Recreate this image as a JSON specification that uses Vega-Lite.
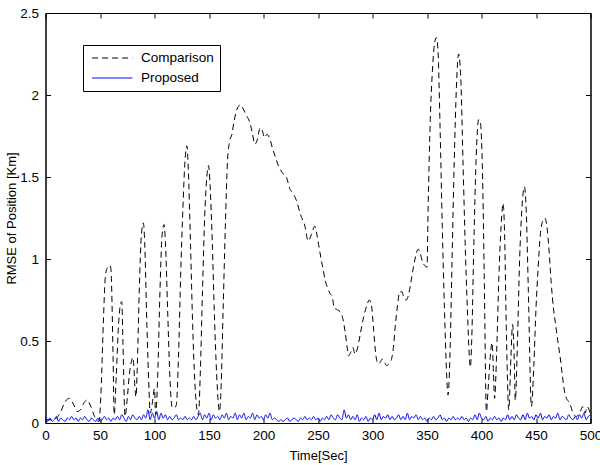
{
"$schema": "https://vega.github.io/schema/vega-lite/v6.json",
"width": 545, "height": 410,
"autosize": "none",
"padding": {"left": 45.5, "top": 13, "right": 9.5, "bottom": 42},
"background": "white",
"config": {
  "view": {"stroke": "black", "strokeWidth": 1},
  "font": "Liberation Sans",
  "axis": {"grid": false, "domainColor": "black", "tickColor": "black", "labelColor": "black", "titleColor": "black", "labelFontSize": 13.5, "titleFontSize": 13, "titleFontWeight": "normal", "tickSize": -5, "labelFlush": false, "labelFont": "Liberation Sans", "titleFont": "Liberation Sans"}
},
"datasets": {
"d": [
{"t":0,"v":0.02,"s":"Comparison"},{"t":5,"v":0.02,"s":"Comparison"},{"t":10,"v":0.03,"s":"Comparison"},{"t":14,"v":0.07,"s":"Comparison"},{"t":18,"v":0.13,"s":"Comparison"},{"t":22,"v":0.15,"s":"Comparison"},{"t":26,"v":0.11,"s":"Comparison"},{"t":29,"v":0.07,"s":"Comparison"},{"t":32,"v":0.08,"s":"Comparison"},{"t":35,"v":0.12,"s":"Comparison"},{"t":38,"v":0.14,"s":"Comparison"},{"t":41,"v":0.11,"s":"Comparison"},{"t":45,"v":0.04,"s":"Comparison"},{"t":49,"v":0.01,"s":"Comparison"},{"t":51,"v":0.2,"s":"Comparison"},{"t":53,"v":0.6,"s":"Comparison"},{"t":55,"v":0.9,"s":"Comparison"},{"t":57,"v":0.95,"s":"Comparison"},{"t":59,"v":0.96,"s":"Comparison"},{"t":60,"v":0.94,"s":"Comparison"},{"t":62,"v":0.4,"s":"Comparison"},{"t":63,"v":0.05,"s":"Comparison"},{"t":65,"v":0.3,"s":"Comparison"},{"t":67,"v":0.6,"s":"Comparison"},{"t":69,"v":0.73,"s":"Comparison"},{"t":70,"v":0.74,"s":"Comparison"},{"t":71,"v":0.5,"s":"Comparison"},{"t":73,"v":0.04,"s":"Comparison"},{"t":75,"v":0.15,"s":"Comparison"},{"t":77,"v":0.3,"s":"Comparison"},{"t":79,"v":0.38,"s":"Comparison"},{"t":80,"v":0.4,"s":"Comparison"},{"t":81,"v":0.35,"s":"Comparison"},{"t":82,"v":0.22,"s":"Comparison"},{"t":83,"v":0.16,"s":"Comparison"},{"t":84,"v":0.3,"s":"Comparison"},{"t":86,"v":0.8,"s":"Comparison"},{"t":88,"v":1.15,"s":"Comparison"},{"t":89.8,"v":1.22,"s":"Comparison"},{"t":91,"v":1.1,"s":"Comparison"},{"t":93,"v":0.6,"s":"Comparison"},{"t":95,"v":0.2,"s":"Comparison"},{"t":96,"v":0.06,"s":"Comparison"},{"t":98,"v":0.12,"s":"Comparison"},{"t":100,"v":0.21,"s":"Comparison"},{"t":101,"v":0.05,"s":"Comparison"},{"t":103,"v":0.3,"s":"Comparison"},{"t":105,"v":0.8,"s":"Comparison"},{"t":107,"v":1.15,"s":"Comparison"},{"t":108.8,"v":1.21,"s":"Comparison"},{"t":110,"v":1.1,"s":"Comparison"},{"t":112,"v":0.7,"s":"Comparison"},{"t":114,"v":0.3,"s":"Comparison"},{"t":116,"v":0.1,"s":"Comparison"},{"t":118,"v":0.09,"s":"Comparison"},{"t":120,"v":0.11,"s":"Comparison"},{"t":122,"v":0.4,"s":"Comparison"},{"t":124,"v":0.9,"s":"Comparison"},{"t":126,"v":1.3,"s":"Comparison"},{"t":128,"v":1.6,"s":"Comparison"},{"t":129.7,"v":1.69,"s":"Comparison"},{"t":131,"v":1.55,"s":"Comparison"},{"t":133,"v":1.1,"s":"Comparison"},{"t":135,"v":0.6,"s":"Comparison"},{"t":137,"v":0.25,"s":"Comparison"},{"t":139,"v":0.08,"s":"Comparison"},{"t":140.3,"v":0.05,"s":"Comparison"},{"t":142,"v":0.3,"s":"Comparison"},{"t":144,"v":0.8,"s":"Comparison"},{"t":146,"v":1.25,"s":"Comparison"},{"t":148,"v":1.5,"s":"Comparison"},{"t":149.5,"v":1.57,"s":"Comparison"},{"t":151,"v":1.45,"s":"Comparison"},{"t":153,"v":1.1,"s":"Comparison"},{"t":155,"v":0.65,"s":"Comparison"},{"t":157,"v":0.3,"s":"Comparison"},{"t":159.6,"v":0.07,"s":"Comparison"},{"t":161,"v":0.2,"s":"Comparison"},{"t":163,"v":0.7,"s":"Comparison"},{"t":165,"v":1.2,"s":"Comparison"},{"t":167,"v":1.6,"s":"Comparison"},{"t":169,"v":1.72,"s":"Comparison"},{"t":171,"v":1.76,"s":"Comparison"},{"t":173,"v":1.84,"s":"Comparison"},{"t":175,"v":1.9,"s":"Comparison"},{"t":177,"v":1.93,"s":"Comparison"},{"t":179,"v":1.94,"s":"Comparison"},{"t":181,"v":1.92,"s":"Comparison"},{"t":184,"v":1.88,"s":"Comparison"},{"t":188,"v":1.82,"s":"Comparison"},{"t":190,"v":1.76,"s":"Comparison"},{"t":192,"v":1.7,"s":"Comparison"},{"t":194,"v":1.72,"s":"Comparison"},{"t":197,"v":1.8,"s":"Comparison"},{"t":199,"v":1.78,"s":"Comparison"},{"t":201,"v":1.74,"s":"Comparison"},{"t":203,"v":1.76,"s":"Comparison"},{"t":206,"v":1.73,"s":"Comparison"},{"t":208,"v":1.68,"s":"Comparison"},{"t":211,"v":1.62,"s":"Comparison"},{"t":213,"v":1.58,"s":"Comparison"},{"t":215,"v":1.55,"s":"Comparison"},{"t":218,"v":1.52,"s":"Comparison"},{"t":221,"v":1.5,"s":"Comparison"},{"t":224,"v":1.43,"s":"Comparison"},{"t":227,"v":1.4,"s":"Comparison"},{"t":230,"v":1.36,"s":"Comparison"},{"t":234,"v":1.27,"s":"Comparison"},{"t":238,"v":1.2,"s":"Comparison"},{"t":241,"v":1.11,"s":"Comparison"},{"t":244,"v":1.15,"s":"Comparison"},{"t":247,"v":1.2,"s":"Comparison"},{"t":249,"v":1.15,"s":"Comparison"},{"t":251,"v":1.07,"s":"Comparison"},{"t":254,"v":0.96,"s":"Comparison"},{"t":257,"v":0.86,"s":"Comparison"},{"t":259,"v":0.82,"s":"Comparison"},{"t":261,"v":0.79,"s":"Comparison"},{"t":263,"v":0.77,"s":"Comparison"},{"t":265,"v":0.7,"s":"Comparison"},{"t":268,"v":0.69,"s":"Comparison"},{"t":271,"v":0.67,"s":"Comparison"},{"t":273,"v":0.63,"s":"Comparison"},{"t":275,"v":0.55,"s":"Comparison"},{"t":277,"v":0.45,"s":"Comparison"},{"t":278,"v":0.41,"s":"Comparison"},{"t":280,"v":0.43,"s":"Comparison"},{"t":282,"v":0.46,"s":"Comparison"},{"t":284,"v":0.42,"s":"Comparison"},{"t":286,"v":0.45,"s":"Comparison"},{"t":289,"v":0.55,"s":"Comparison"},{"t":292,"v":0.65,"s":"Comparison"},{"t":295,"v":0.72,"s":"Comparison"},{"t":297,"v":0.75,"s":"Comparison"},{"t":299,"v":0.72,"s":"Comparison"},{"t":301,"v":0.57,"s":"Comparison"},{"t":303,"v":0.42,"s":"Comparison"},{"t":305,"v":0.36,"s":"Comparison"},{"t":307,"v":0.37,"s":"Comparison"},{"t":309,"v":0.39,"s":"Comparison"},{"t":311,"v":0.37,"s":"Comparison"},{"t":313,"v":0.35,"s":"Comparison"},{"t":315,"v":0.36,"s":"Comparison"},{"t":317,"v":0.38,"s":"Comparison"},{"t":319,"v":0.45,"s":"Comparison"},{"t":321,"v":0.6,"s":"Comparison"},{"t":323,"v":0.72,"s":"Comparison"},{"t":325,"v":0.8,"s":"Comparison"},{"t":327,"v":0.8,"s":"Comparison"},{"t":329,"v":0.76,"s":"Comparison"},{"t":331,"v":0.75,"s":"Comparison"},{"t":333,"v":0.78,"s":"Comparison"},{"t":335,"v":0.85,"s":"Comparison"},{"t":337,"v":0.93,"s":"Comparison"},{"t":339,"v":1.0,"s":"Comparison"},{"t":342,"v":1.06,"s":"Comparison"},{"t":344,"v":1.03,"s":"Comparison"},{"t":346,"v":0.98,"s":"Comparison"},{"t":348,"v":0.96,"s":"Comparison"},{"t":350,"v":0.95,"s":"Comparison"},{"t":351,"v":1.3,"s":"Comparison"},{"t":352,"v":1.6,"s":"Comparison"},{"t":353,"v":1.85,"s":"Comparison"},{"t":355,"v":2.15,"s":"Comparison"},{"t":357,"v":2.32,"s":"Comparison"},{"t":358.6,"v":2.35,"s":"Comparison"},{"t":360,"v":2.28,"s":"Comparison"},{"t":362,"v":1.8,"s":"Comparison"},{"t":364,"v":1.2,"s":"Comparison"},{"t":366,"v":0.7,"s":"Comparison"},{"t":368,"v":0.3,"s":"Comparison"},{"t":369.3,"v":0.17,"s":"Comparison"},{"t":371,"v":0.4,"s":"Comparison"},{"t":373,"v":1.0,"s":"Comparison"},{"t":375,"v":1.6,"s":"Comparison"},{"t":377,"v":2.05,"s":"Comparison"},{"t":379,"v":2.25,"s":"Comparison"},{"t":381,"v":2.1,"s":"Comparison"},{"t":383,"v":1.6,"s":"Comparison"},{"t":385,"v":1.1,"s":"Comparison"},{"t":387,"v":0.7,"s":"Comparison"},{"t":389.8,"v":0.34,"s":"Comparison"},{"t":391,"v":0.5,"s":"Comparison"},{"t":393,"v":1.1,"s":"Comparison"},{"t":395,"v":1.6,"s":"Comparison"},{"t":397.4,"v":1.85,"s":"Comparison"},{"t":399,"v":1.83,"s":"Comparison"},{"t":401,"v":1.5,"s":"Comparison"},{"t":402.5,"v":0.9,"s":"Comparison"},{"t":404.5,"v":0.07,"s":"Comparison"},{"t":406,"v":0.2,"s":"Comparison"},{"t":408,"v":0.4,"s":"Comparison"},{"t":409.7,"v":0.49,"s":"Comparison"},{"t":411,"v":0.3,"s":"Comparison"},{"t":412,"v":0.15,"s":"Comparison"},{"t":414,"v":0.45,"s":"Comparison"},{"t":416,"v":0.9,"s":"Comparison"},{"t":418,"v":1.2,"s":"Comparison"},{"t":419.8,"v":1.34,"s":"Comparison"},{"t":421,"v":1.2,"s":"Comparison"},{"t":423,"v":0.5,"s":"Comparison"},{"t":425,"v":0.08,"s":"Comparison"},{"t":427,"v":0.4,"s":"Comparison"},{"t":428.5,"v":0.6,"s":"Comparison"},{"t":430,"v":0.4,"s":"Comparison"},{"t":431,"v":0.14,"s":"Comparison"},{"t":433,"v":0.5,"s":"Comparison"},{"t":435,"v":1.0,"s":"Comparison"},{"t":437,"v":1.3,"s":"Comparison"},{"t":439.4,"v":1.44,"s":"Comparison"},{"t":441,"v":1.3,"s":"Comparison"},{"t":443,"v":0.8,"s":"Comparison"},{"t":445.8,"v":0.1,"s":"Comparison"},{"t":448,"v":0.35,"s":"Comparison"},{"t":450,"v":0.7,"s":"Comparison"},{"t":452,"v":0.95,"s":"Comparison"},{"t":454,"v":1.15,"s":"Comparison"},{"t":456,"v":1.23,"s":"Comparison"},{"t":458,"v":1.25,"s":"Comparison"},{"t":460,"v":1.2,"s":"Comparison"},{"t":462,"v":1.05,"s":"Comparison"},{"t":464,"v":0.85,"s":"Comparison"},{"t":466,"v":0.7,"s":"Comparison"},{"t":468,"v":0.6,"s":"Comparison"},{"t":470,"v":0.5,"s":"Comparison"},{"t":472,"v":0.41,"s":"Comparison"},{"t":474,"v":0.3,"s":"Comparison"},{"t":476,"v":0.2,"s":"Comparison"},{"t":478,"v":0.15,"s":"Comparison"},{"t":480,"v":0.13,"s":"Comparison"},{"t":482,"v":0.1,"s":"Comparison"},{"t":484,"v":0.06,"s":"Comparison"},{"t":487,"v":0.04,"s":"Comparison"},{"t":490,"v":0.06,"s":"Comparison"},{"t":493,"v":0.1,"s":"Comparison"},{"t":495,"v":0.06,"s":"Comparison"},{"t":497,"v":0.1,"s":"Comparison"},{"t":500,"v":0.05,"s":"Comparison"},
{"t":0,"v":0.04,"s":"Proposed"},{"t":2,"v":0.01,"s":"Proposed"},{"t":4,"v":0.03,"s":"Proposed"},{"t":6,"v":0.01,"s":"Proposed"},{"t":8,"v":0.02,"s":"Proposed"},{"t":10,"v":0.04,"s":"Proposed"},{"t":12,"v":0.01,"s":"Proposed"},{"t":14,"v":0.03,"s":"Proposed"},{"t":16,"v":0.02,"s":"Proposed"},{"t":18,"v":0.01,"s":"Proposed"},{"t":20,"v":0.03,"s":"Proposed"},{"t":22,"v":0.02,"s":"Proposed"},{"t":24,"v":0.04,"s":"Proposed"},{"t":26,"v":0.02,"s":"Proposed"},{"t":28,"v":0.03,"s":"Proposed"},{"t":30,"v":0.01,"s":"Proposed"},{"t":32,"v":0.03,"s":"Proposed"},{"t":34,"v":0.02,"s":"Proposed"},{"t":36,"v":0.04,"s":"Proposed"},{"t":38,"v":0.02,"s":"Proposed"},{"t":40,"v":0.01,"s":"Proposed"},{"t":42,"v":0.03,"s":"Proposed"},{"t":44,"v":0.02,"s":"Proposed"},{"t":46,"v":0.01,"s":"Proposed"},{"t":48,"v":0.03,"s":"Proposed"},{"t":50,"v":0.01,"s":"Proposed"},{"t":52,"v":0.02,"s":"Proposed"},{"t":54,"v":0.04,"s":"Proposed"},{"t":56,"v":0.02,"s":"Proposed"},{"t":58,"v":0.03,"s":"Proposed"},{"t":60,"v":0.01,"s":"Proposed"},{"t":62,"v":0.03,"s":"Proposed"},{"t":64,"v":0.02,"s":"Proposed"},{"t":66,"v":0.04,"s":"Proposed"},{"t":68,"v":0.02,"s":"Proposed"},{"t":70,"v":0.05,"s":"Proposed"},{"t":72,"v":0.03,"s":"Proposed"},{"t":74,"v":0.01,"s":"Proposed"},{"t":76,"v":0.04,"s":"Proposed"},{"t":78,"v":0.02,"s":"Proposed"},{"t":80,"v":0.05,"s":"Proposed"},{"t":82,"v":0.03,"s":"Proposed"},{"t":84,"v":0.02,"s":"Proposed"},{"t":86,"v":0.04,"s":"Proposed"},{"t":88,"v":0.02,"s":"Proposed"},{"t":90,"v":0.05,"s":"Proposed"},{"t":92,"v":0.03,"s":"Proposed"},{"t":94,"v":0.08,"s":"Proposed"},{"t":96,"v":0.02,"s":"Proposed"},{"t":98,"v":0.06,"s":"Proposed"},{"t":100,"v":0.03,"s":"Proposed"},{"t":102,"v":0.07,"s":"Proposed"},{"t":104,"v":0.02,"s":"Proposed"},{"t":106,"v":0.06,"s":"Proposed"},{"t":108,"v":0.03,"s":"Proposed"},{"t":110,"v":0.05,"s":"Proposed"},{"t":112,"v":0.02,"s":"Proposed"},{"t":114,"v":0.04,"s":"Proposed"},{"t":116,"v":0.02,"s":"Proposed"},{"t":118,"v":0.03,"s":"Proposed"},{"t":120,"v":0.05,"s":"Proposed"},{"t":122,"v":0.02,"s":"Proposed"},{"t":124,"v":0.03,"s":"Proposed"},{"t":126,"v":0.02,"s":"Proposed"},{"t":128,"v":0.04,"s":"Proposed"},{"t":130,"v":0.02,"s":"Proposed"},{"t":132,"v":0.03,"s":"Proposed"},{"t":134,"v":0.02,"s":"Proposed"},{"t":136,"v":0.04,"s":"Proposed"},{"t":138,"v":0.02,"s":"Proposed"},{"t":140,"v":0.04,"s":"Proposed"},{"t":142,"v":0.06,"s":"Proposed"},{"t":144,"v":0.02,"s":"Proposed"},{"t":146,"v":0.05,"s":"Proposed"},{"t":148,"v":0.03,"s":"Proposed"},{"t":150,"v":0.06,"s":"Proposed"},{"t":152,"v":0.02,"s":"Proposed"},{"t":154,"v":0.05,"s":"Proposed"},{"t":156,"v":0.03,"s":"Proposed"},{"t":158,"v":0.04,"s":"Proposed"},{"t":160,"v":0.02,"s":"Proposed"},{"t":162,"v":0.05,"s":"Proposed"},{"t":164,"v":0.03,"s":"Proposed"},{"t":166,"v":0.06,"s":"Proposed"},{"t":168,"v":0.02,"s":"Proposed"},{"t":170,"v":0.04,"s":"Proposed"},{"t":172,"v":0.03,"s":"Proposed"},{"t":174,"v":0.06,"s":"Proposed"},{"t":176,"v":0.02,"s":"Proposed"},{"t":178,"v":0.05,"s":"Proposed"},{"t":180,"v":0.03,"s":"Proposed"},{"t":182,"v":0.06,"s":"Proposed"},{"t":184,"v":0.02,"s":"Proposed"},{"t":186,"v":0.04,"s":"Proposed"},{"t":188,"v":0.03,"s":"Proposed"},{"t":190,"v":0.06,"s":"Proposed"},{"t":192,"v":0.02,"s":"Proposed"},{"t":194,"v":0.05,"s":"Proposed"},{"t":196,"v":0.03,"s":"Proposed"},{"t":198,"v":0.04,"s":"Proposed"},{"t":200,"v":0.02,"s":"Proposed"},{"t":202,"v":0.05,"s":"Proposed"},{"t":204,"v":0.03,"s":"Proposed"},{"t":206,"v":0.06,"s":"Proposed"},{"t":208,"v":0.02,"s":"Proposed"},{"t":210,"v":0.03,"s":"Proposed"},{"t":212,"v":0.02,"s":"Proposed"},{"t":214,"v":0.01,"s":"Proposed"},{"t":216,"v":0.02,"s":"Proposed"},{"t":218,"v":0.01,"s":"Proposed"},{"t":220,"v":0.02,"s":"Proposed"},{"t":222,"v":0.03,"s":"Proposed"},{"t":224,"v":0.01,"s":"Proposed"},{"t":226,"v":0.02,"s":"Proposed"},{"t":228,"v":0.03,"s":"Proposed"},{"t":230,"v":0.02,"s":"Proposed"},{"t":232,"v":0.01,"s":"Proposed"},{"t":234,"v":0.03,"s":"Proposed"},{"t":236,"v":0.02,"s":"Proposed"},{"t":238,"v":0.04,"s":"Proposed"},{"t":240,"v":0.02,"s":"Proposed"},{"t":242,"v":0.03,"s":"Proposed"},{"t":244,"v":0.02,"s":"Proposed"},{"t":246,"v":0.04,"s":"Proposed"},{"t":248,"v":0.02,"s":"Proposed"},{"t":250,"v":0.03,"s":"Proposed"},{"t":252,"v":0.01,"s":"Proposed"},{"t":254,"v":0.03,"s":"Proposed"},{"t":256,"v":0.02,"s":"Proposed"},{"t":258,"v":0.04,"s":"Proposed"},{"t":260,"v":0.02,"s":"Proposed"},{"t":262,"v":0.05,"s":"Proposed"},{"t":264,"v":0.03,"s":"Proposed"},{"t":266,"v":0.02,"s":"Proposed"},{"t":268,"v":0.05,"s":"Proposed"},{"t":270,"v":0.03,"s":"Proposed"},{"t":272,"v":0.02,"s":"Proposed"},{"t":274,"v":0.08,"s":"Proposed"},{"t":276,"v":0.03,"s":"Proposed"},{"t":278,"v":0.05,"s":"Proposed"},{"t":280,"v":0.02,"s":"Proposed"},{"t":282,"v":0.04,"s":"Proposed"},{"t":284,"v":0.02,"s":"Proposed"},{"t":286,"v":0.05,"s":"Proposed"},{"t":288,"v":0.01,"s":"Proposed"},{"t":290,"v":0.03,"s":"Proposed"},{"t":292,"v":0.02,"s":"Proposed"},{"t":294,"v":0.04,"s":"Proposed"},{"t":296,"v":0.01,"s":"Proposed"},{"t":298,"v":0.03,"s":"Proposed"},{"t":300,"v":0.02,"s":"Proposed"},{"t":302,"v":0.05,"s":"Proposed"},{"t":304,"v":0.02,"s":"Proposed"},{"t":306,"v":0.06,"s":"Proposed"},{"t":308,"v":0.02,"s":"Proposed"},{"t":310,"v":0.04,"s":"Proposed"},{"t":312,"v":0.03,"s":"Proposed"},{"t":314,"v":0.05,"s":"Proposed"},{"t":316,"v":0.02,"s":"Proposed"},{"t":318,"v":0.04,"s":"Proposed"},{"t":320,"v":0.02,"s":"Proposed"},{"t":322,"v":0.03,"s":"Proposed"},{"t":324,"v":0.05,"s":"Proposed"},{"t":326,"v":0.02,"s":"Proposed"},{"t":328,"v":0.04,"s":"Proposed"},{"t":330,"v":0.02,"s":"Proposed"},{"t":332,"v":0.06,"s":"Proposed"},{"t":334,"v":0.02,"s":"Proposed"},{"t":336,"v":0.04,"s":"Proposed"},{"t":338,"v":0.03,"s":"Proposed"},{"t":340,"v":0.05,"s":"Proposed"},{"t":342,"v":0.02,"s":"Proposed"},{"t":344,"v":0.04,"s":"Proposed"},{"t":346,"v":0.02,"s":"Proposed"},{"t":348,"v":0.03,"s":"Proposed"},{"t":350,"v":0.01,"s":"Proposed"},{"t":352,"v":0.03,"s":"Proposed"},{"t":354,"v":0.02,"s":"Proposed"},{"t":356,"v":0.04,"s":"Proposed"},{"t":358,"v":0.02,"s":"Proposed"},{"t":360,"v":0.03,"s":"Proposed"},{"t":362,"v":0.05,"s":"Proposed"},{"t":364,"v":0.02,"s":"Proposed"},{"t":366,"v":0.03,"s":"Proposed"},{"t":368,"v":0.01,"s":"Proposed"},{"t":370,"v":0.03,"s":"Proposed"},{"t":372,"v":0.02,"s":"Proposed"},{"t":374,"v":0.04,"s":"Proposed"},{"t":376,"v":0.02,"s":"Proposed"},{"t":378,"v":0.03,"s":"Proposed"},{"t":380,"v":0.02,"s":"Proposed"},{"t":382,"v":0.04,"s":"Proposed"},{"t":384,"v":0.02,"s":"Proposed"},{"t":386,"v":0.03,"s":"Proposed"},{"t":388,"v":0.01,"s":"Proposed"},{"t":390,"v":0.03,"s":"Proposed"},{"t":392,"v":0.02,"s":"Proposed"},{"t":394,"v":0.05,"s":"Proposed"},{"t":396,"v":0.02,"s":"Proposed"},{"t":398,"v":0.06,"s":"Proposed"},{"t":400,"v":0.03,"s":"Proposed"},{"t":402,"v":0.02,"s":"Proposed"},{"t":404,"v":0.04,"s":"Proposed"},{"t":406,"v":0.01,"s":"Proposed"},{"t":408,"v":0.03,"s":"Proposed"},{"t":410,"v":0.02,"s":"Proposed"},{"t":412,"v":0.04,"s":"Proposed"},{"t":414,"v":0.02,"s":"Proposed"},{"t":416,"v":0.03,"s":"Proposed"},{"t":418,"v":0.01,"s":"Proposed"},{"t":420,"v":0.03,"s":"Proposed"},{"t":422,"v":0.02,"s":"Proposed"},{"t":424,"v":0.05,"s":"Proposed"},{"t":426,"v":0.02,"s":"Proposed"},{"t":428,"v":0.04,"s":"Proposed"},{"t":430,"v":0.02,"s":"Proposed"},{"t":432,"v":0.05,"s":"Proposed"},{"t":434,"v":0.03,"s":"Proposed"},{"t":436,"v":0.02,"s":"Proposed"},{"t":438,"v":0.05,"s":"Proposed"},{"t":440,"v":0.02,"s":"Proposed"},{"t":442,"v":0.06,"s":"Proposed"},{"t":444,"v":0.03,"s":"Proposed"},{"t":446,"v":0.04,"s":"Proposed"},{"t":448,"v":0.02,"s":"Proposed"},{"t":450,"v":0.05,"s":"Proposed"},{"t":452,"v":0.03,"s":"Proposed"},{"t":454,"v":0.06,"s":"Proposed"},{"t":456,"v":0.02,"s":"Proposed"},{"t":458,"v":0.04,"s":"Proposed"},{"t":460,"v":0.03,"s":"Proposed"},{"t":462,"v":0.05,"s":"Proposed"},{"t":464,"v":0.02,"s":"Proposed"},{"t":466,"v":0.04,"s":"Proposed"},{"t":468,"v":0.03,"s":"Proposed"},{"t":470,"v":0.06,"s":"Proposed"},{"t":472,"v":0.02,"s":"Proposed"},{"t":474,"v":0.04,"s":"Proposed"},{"t":476,"v":0.03,"s":"Proposed"},{"t":478,"v":0.02,"s":"Proposed"},{"t":480,"v":0.05,"s":"Proposed"},{"t":482,"v":0.03,"s":"Proposed"},{"t":484,"v":0.02,"s":"Proposed"},{"t":486,"v":0.04,"s":"Proposed"},{"t":488,"v":0.02,"s":"Proposed"},{"t":490,"v":0.05,"s":"Proposed"},{"t":492,"v":0.03,"s":"Proposed"},{"t":494,"v":0.06,"s":"Proposed"},{"t":496,"v":0.02,"s":"Proposed"},{"t":498,"v":0.04,"s":"Proposed"},{"t":500,"v":0.05,"s":"Proposed"}
]
},
"data": {"name": "d"},
"layer": [
  {
    "mark": {"type": "line", "strokeWidth": 1, "interpolate": "monotone", "clip": true},
    "encoding": {
      "x": {"field": "t", "type": "quantitative", "scale": {"domain": [0, 500], "nice": false},
            "axis": {"values": [0,50,100,150,200,250,300,350,400,450,500], "title": "Time[Sec]", "labelPadding": 10, "titlePadding": 8}},
      "y": {"field": "v", "type": "quantitative", "scale": {"domain": [0, 2.5], "nice": false},
            "axis": {"values": [0,0.5,1,1.5,2,2.5], "format": "~g", "title": "RMSE of Position [Km]", "labelPadding": 12, "titlePadding": 1}},
      "color": {"field": "s", "type": "nominal", "scale": {"domain": ["Comparison", "Proposed"], "range": ["#000000", "#0000ff"]},
                "legend": {"title": null, "orient": "none", "legendX": 37.5, "legendY": 32, "strokeColor": "black", "fillColor": "white", "padding": 6, "symbolType": "M-0.6,0H5.6", "symbolSize": 169, "symbolStrokeWidth": 1, "labelFontSize": 13.5, "labelFont": "Liberation Sans", "labelColor": "black", "labelOffset": 38, "rowPadding": 6}},
      "strokeDash": {"field": "s", "type": "nominal", "scale": {"domain": ["Comparison", "Proposed"], "range": [[6, 4], [1, 0]]}, "legend": null}
    }
  },
  {
    "mark": {"type": "point", "opacity": 0},
    "encoding": {
      "x": {"field": "t", "type": "quantitative", "axis": {"orient": "top", "values": [0,50,100,150,200,250,300,350,400,450,500], "labels": false, "title": null}},
      "y": {"field": "v", "type": "quantitative", "axis": {"orient": "right", "values": [0,0.5,1,1.5,2,2.5], "labels": false, "title": null}}
    }
  }
],
"resolve": {"axis": {"x": "independent", "y": "independent"}}
}
